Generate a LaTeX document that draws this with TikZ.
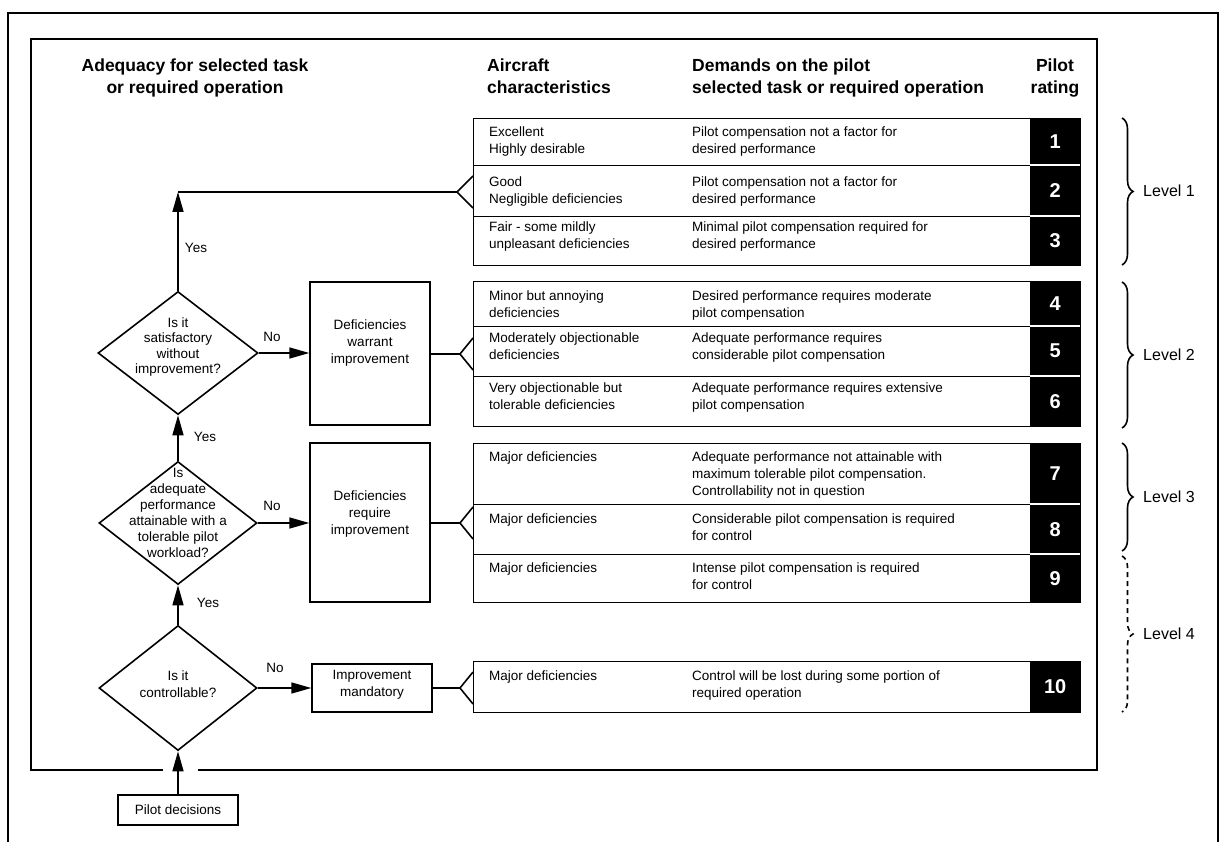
\documentclass[tikz,border=0pt]{standalone}
\usepackage{fontspec}
\setmainfont{Liberation Sans}
\usetikzlibrary{shapes.geometric,arrows.meta,decorations.pathreplacing}
\newcommand\bodyf{\fontsize{13.5}{16.8}\selectfont}
\newcommand\headf{\fontsize{17.5}{21.5}\selectfont\bfseries}
\newcommand\numf{\fontsize{20}{22}\selectfont\bfseries}
\newcommand\levf{\fontsize{16}{18}\selectfont}
\begin{document}
\begin{tikzpicture}[x=1pt,y=-1pt,
  frame/.style={line width=1.4pt},
  dia/.style={draw, shape=diamond, line width=1.6pt, inner sep=0pt, minimum width=160pt, minimum height=123pt},
  dtext/.style={font=\bodyf, align=center, inner sep=0pt},
  box/.style={draw, line width=1.4pt, minimum width=120pt, inner sep=0pt, font=\bodyf},
  rowbox/.style={draw, line width=1.3pt, minimum width=607pt, anchor=north west, inner sep=0pt},
  numbox/.style={fill=black, text=white, font=\numf, minimum width=50pt, anchor=north west, inner sep=0pt},
  ctext/.style={font=\bodyf, align=left, anchor=north west, inner sep=0pt},
  head/.style={font=\headf, align=left, anchor=north west, inner sep=0pt},
  conn/.style={line width=1.6pt},
  arr/.style={conn, -{Triangle[length=20pt,width=11pt]}},
  lab/.style={font=\bodyf, inner sep=0pt},
  lvl/.style={font=\levf, anchor=west, inner sep=0pt},
  brc/.style={line width=1.6pt, decorate, decoration={brace, amplitude=11pt}},
  sep/.style={white, line width=2pt}
]
\useasboundingbox (0,0) rectangle (1225,842);
% frames
\draw[frame] (8,842) -- (8,13) -- (1218,13) -- (1218,842);
\draw[frame] (163,770) -- (31,770) -- (31,39) -- (1097,39) -- (1097,770) -- (198,770);
% headers
\node[head, align=center, anchor=north] (h1) at (195,59) {Adequacy for selected task\\or required operation};
\node[head] (h2) at (487,59) {Aircraft\\characteristics};
\node[head] (h3) at (692,59) {Demands on the pilot\\selected task or required operation};
\node[head, align=center, anchor=north] (h4) at (1055,59) {Pilot\\rating};
% rows
\node[rowbox, minimum height=47] (r1) at (473,118) {};
\node[rowbox, minimum height=51] (r2) at (473,165) {};
\node[rowbox, minimum height=49] (r3) at (473,216) {};
\node[rowbox, minimum height=45] (r4) at (473,281) {};
\node[rowbox, minimum height=50] (r5) at (473,326) {};
\node[rowbox, minimum height=50] (r6) at (473,376) {};
\node[rowbox, minimum height=61] (r7) at (473,443) {};
\node[rowbox, minimum height=50] (r8) at (473,504) {};
\node[rowbox, minimum height=48] (r9) at (473,554) {};
\node[rowbox, minimum height=51] (r10) at (473,661) {};
\node[numbox, minimum height=47] (n1) at (1030,118) {1};
\node[numbox, minimum height=51] (n2) at (1030,165) {2};
\node[numbox, minimum height=49] (n3) at (1030,216) {3};
\node[numbox, minimum height=45] (n4) at (1030,281) {4};
\node[numbox, minimum height=50] (n5) at (1030,326) {5};
\node[numbox, minimum height=50] (n6) at (1030,376) {6};
\node[numbox, minimum height=61] (n7) at (1030,443) {7};
\node[numbox, minimum height=50] (n8) at (1030,504) {8};
\node[numbox, minimum height=48] (n9) at (1030,554) {9};
\node[numbox, minimum height=51] (n10) at (1030,661) {10};
\draw[sep] (n1.south west) -- (n1.south east);
\draw[sep] (n2.south west) -- (n2.south east);
\draw[sep] (n4.south west) -- (n4.south east);
\draw[sep] (n5.south west) -- (n5.south east);
\draw[sep] (n7.south west) -- (n7.south east);
\draw[sep] (n8.south west) -- (n8.south east);
% row texts
\node[ctext] (a1) at (489,127) {Excellent\\Highly desirable};
\node[ctext] (p1) at (692,127) {Pilot compensation not a factor for\\desired performance};
\node[ctext] (a2) at (489,177) {Good\\Negligible deficiencies};
\node[ctext] (p2) at (692,177) {Pilot compensation not a factor for\\desired performance};
\node[ctext] (a3) at (489,222) {Fair - some mildly\\unpleasant deficiencies};
\node[ctext] (p3) at (692,222) {Minimal pilot compensation required for\\desired performance};
\node[ctext] (a4) at (489,291) {Minor but annoying\\deficiencies};
\node[ctext] (p4) at (692,291) {Desired performance requires moderate\\pilot compensation};
\node[ctext] (a5) at (489,333) {Moderately objectionable\\deficiencies};
\node[ctext] (p5) at (692,333) {Adequate performance requires\\considerable pilot compensation};
\node[ctext] (a6) at (489,383) {Very objectionable but\\tolerable deficiencies};
\node[ctext] (p6) at (692,383) {Adequate performance requires extensive\\pilot compensation};
\node[ctext] (a7) at (489,452) {Major deficiencies};
\node[ctext] (p7) at (692,452) {Adequate performance not attainable with\\maximum tolerable pilot compensation.\\Controllability not in question};
\node[ctext] (a8) at (489,514) {Major deficiencies};
\node[ctext] (p8) at (692,514) {Considerable pilot compensation is required\\for control};
\node[ctext] (a9) at (489,563) {Major deficiencies};
\node[ctext] (p9) at (692,563) {Intense pilot compensation is required\\for control};
\node[ctext] (a10) at (489,671) {Major deficiencies};
\node[ctext] (p10) at (692,671) {Control will be lost during some portion of\\required operation};
% braces and levels
\draw[brc] (1122,118) -- (1122,265);
\node[lvl] (l1) at (1143,191) {Level 1};
\draw[brc] (1122,282) -- (1122,428);
\node[lvl] (l2) at (1143,355) {Level 2};
\draw[brc] (1122,443) -- (1122,551);
\node[lvl] (l3) at (1143,497) {Level 3};
\draw[brc, dash pattern=on 5pt off 4pt] (1122,556) -- (1122,712);
\node[lvl] (l4) at (1143,634) {Level 4};
% decision flow
\node[dia] (d1) at (178,353) {};
\node[dtext, font=\fontsize{13.5}{15.5}\selectfont] (d1t) at (178,347) {Is it\\satisfactory\\without\\improvement?};
\node[dia, minimum width=158, minimum height=123] (d2) at (178,523) {};
\node[dtext, font=\fontsize{13.5}{16}\selectfont] (d2t) at (178,513) {Is\\adequate\\performance\\attainable with a\\tolerable pilot\\workload?};
\node[dia, minimum width=158, minimum height=125] (d3) at (178,688) {};
\node[dtext, font=\fontsize{13.5}{17.5}\selectfont] (d3t) at (178,684) {Is it\\controllable?};
\node[box, minimum height=143] (b1) at (370,353.5) {};
\node[dtext] (b1t) at (370,343) {Deficiencies\\warrant\\improvement};
\node[box, minimum height=159] (b2) at (370,522.5) {};
\node[dtext] (b2t) at (370,514) {Deficiencies\\require\\improvement};
\node[box, minimum height=48] (b3) at (372,688) {};
\node[dtext] (b3t) at (372,685) {Improvement\\mandatory};
\node[box, minimum height=30] (pd) at (178,810) {Pilot decisions};
% arrows
\draw[arr] (pd.north) -- (d3.south);
\draw[arr] (d3.north) -- (d2.south);
\draw[arr] (d2.north) -- (d1.south);
\coordinate (c0) at (178,192);
\coordinate (v1) at (457,192);
\draw[arr] (d1.north) -- (c0);
\draw[conn] (c0) -- (v1) -- ++(16,-16) (v1) -- ++(16,16);
\draw[arr] (d1.east) -- (d1.east -| b1.west);
\draw[arr] (d2.east) -- (d2.east -| b2.west);
\draw[arr] (d3.east) -- (d3.east -| b3.west);
\coordinate (v2) at (460,354);
\draw[conn] (b1.east |- v2) -- (v2) -- ++(13,-16) (v2) -- ++(13,16);
\coordinate (v3) at (460,523);
\draw[conn] (b2.east |- v3) -- (v3) -- ++(13,-16) (v3) -- ++(13,16);
\coordinate (v4) at (460,688);
\draw[conn] (b3.east |- v4) -- (v4) -- ++(13,-16) (v4) -- ++(13,16);
% labels
\node[lab] (y1) at (196,248) {Yes};
\node[lab] (y2) at (205,437) {Yes};
\node[lab] (y3) at (208,603) {Yes};
\node[lab] (no1) at (272,337) {No};
\node[lab] (no2) at (272,506) {No};
\node[lab] (no3) at (275,668) {No};
\end{tikzpicture}
\end{document}
